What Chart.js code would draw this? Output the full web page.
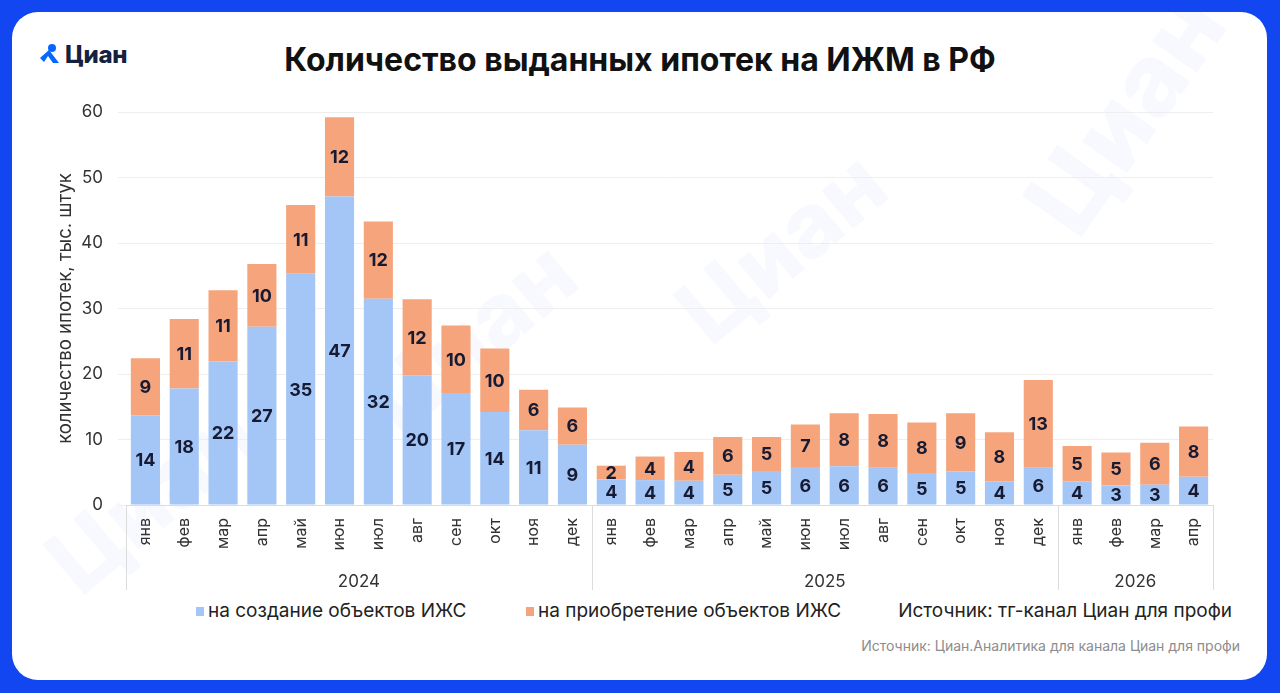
<!DOCTYPE html>
<html lang="ru">
<head>
<meta charset="utf-8">
<script src="https://cdn.jsdelivr.net/npm/chart.js@4.4.1/dist/chart.umd.min.js"></script>
<style>
  html, body { margin: 0; padding: 0; }
  body { width: 1280px; height: 693px; background: #1246f0; position: relative; overflow: hidden; font-family: Inter, "Noto Sans", sans-serif; }
  .card { position: absolute; left: 12px; top: 12px; width: 1255px; height: 668px; background: #fff; border-radius: 26px; overflow: hidden; }
  .wm { position: absolute; font-weight: 800; color: #f7f9fe; white-space: nowrap; transform-origin: center; }
  .logo { position: absolute; left: 38px; top: 40px; display: flex; align-items: center; }
  .logo span { font-weight: 800; font-size: 24px; color: #15213f; margin-left: 3px; letter-spacing: -0.3px; }
  .title { position: absolute; left: 0; width: 1280px; top: 40px; text-align: center; font-weight: 700; font-size: 32px; color: #111; }
  .legend { position: absolute; top: 599px; left: 0; width: 1280px; height: 24px; font-size: 19px; color: #222; }
  .legend .item { position: absolute; top: 0; line-height: 24px; white-space: nowrap; }
  .legend .box { display: inline-block; width: 8px; height: 9px; margin-right: 4px; vertical-align: 1px; }
  .footer { position: absolute; right: 40px; top: 637px; font-size: 14px; color: #8c8c8c; }
  .wrap { position: absolute; left: 0; top: 0; width: 1280px; height: 693px; }
</style>
</head>
<body>
<div class="card">
  <div class="wm" style="left:980px; top:40px; font-size:100px; transform:rotate(-55deg);">Циан</div>
  <div class="wm" style="left:650px; top:180px; font-size:90px; transform:rotate(-40deg);">Циан</div>
  <div class="wm" style="left:340px; top:270px; font-size:90px; transform:rotate(-40deg);">Циан</div>
  <div class="wm" style="left:20px; top:430px; font-size:90px; transform:rotate(-40deg);">Циан</div>
</div>
<div class="logo">
  <svg width="24" height="24" viewBox="0 0 24 24">
    <circle cx="14" cy="5" r="4" fill="#0468ff"/>
    <path d="M2 15 L11 7 L21 20 L15 20 L10 13 L6 19 Z" fill="#0468ff"/>
  </svg>
  <span>Циан</span>
</div>
<div class="title">Количество выданных ипотек на ИЖМ в РФ</div>
<div class="legend" id="legend"></div>
<div class="footer">Источник: Циан.Аналитика для канала Циан для профи</div>
<div class="wrap"><canvas id="chart"></canvas></div>

<script>
// Данные
const months = [
  'янв', 'фев', 'мар', 'апр', 'май', 'июн', 'июл', 'авг', 'сен', 'окт', 'ноя', 'дек',
  'янв', 'фев', 'мар', 'апр', 'май', 'июн', 'июл', 'авг', 'сен', 'окт', 'ноя', 'дек',
  'янв', 'фев', 'мар', 'апр'
];
const years = ['2024', '2025', '2026'];
const monthsPerYear = [12, 12, 4];

// тыс. штук
const creation = [
  13.7, 17.8, 21.9, 27.2, 35.3, 47.1, 31.5, 19.8, 17.1, 14.2, 11.4, 9.2,
  3.9, 3.8, 3.7, 4.6, 5.2, 5.8, 5.9, 5.7, 4.9, 5.1, 3.6, 5.7,
  3.6, 3.0, 3.1, 4.3
];
const purchase = [
  8.7, 10.6, 10.9, 9.6, 10.5, 12.1, 11.8, 11.6, 10.3, 9.7, 6.2, 5.7,
  2.1, 3.6, 4.4, 5.8, 5.2, 6.5, 8.1, 8.2, 7.7, 8.9, 7.5, 13.4,
  5.4, 5.0, 6.4, 7.7
];
const yTicks = [0, 10, 20, 30, 40, 50, 60];

const seriesNames = ['на создание объектов ИЖС', 'на приобретение объектов ИЖС'];
const seriesColors = ['#a3c6f7', '#f5a47c'];
const sourceNote = 'Источник: тг-канал Циан для профи';

const FONT = 'Inter, "Noto Sans", sans-serif';

// подписи значений внутри сегментов
const valueLabels = {
  id: 'valueLabels',
  afterDatasetsDraw(chart) {
    const ctx = chart.ctx;
    ctx.save();
    ctx.font = 'bold 18px ' + FONT;
    ctx.fillStyle = '#161a33';
    ctx.textAlign = 'center';
    ctx.textBaseline = 'middle';
    chart.data.datasets.forEach((ds, di) => {
      chart.getDatasetMeta(di).data.forEach((bar, i) => {
        const y = (bar.y + bar.base) / 2;
        ctx.fillText(String(Math.round(ds.data[i])), bar.x, y + 1);
      });
    });
    ctx.restore();
  }
};

// группировка месяцев по годам
const yearGroups = {
  id: 'yearGroups',
  afterDraw(chart) {
    const x = chart.scales.x;
    const ctx = chart.ctx;
    const half = (x.getPixelForValue(1) - x.getPixelForValue(0)) / 2;
    const top = chart.chartArea.bottom;
    const bottom = x.bottom;
    ctx.save();
    ctx.strokeStyle = '#dcdcdc';
    ctx.lineWidth = 1;
    ctx.font = '17px ' + FONT;
    ctx.fillStyle = '#333';
    ctx.textAlign = 'center';
    ctx.textBaseline = 'middle';
    let start = 0;
    const edges = [x.getPixelForValue(0) - half];
    years.forEach((yr, k) => {
      const end = start + monthsPerYear[k] - 1;
      const l = x.getPixelForValue(start) - half;
      const r = x.getPixelForValue(end) + half;
      edges.push(r);
      ctx.fillText(yr, (l + r) / 2, bottom - 8);
      start = end + 1;
    });
    edges.forEach(px => {
      ctx.beginPath();
      ctx.moveTo(Math.round(px) + 0.5, top);
      ctx.lineTo(Math.round(px) + 0.5, bottom);
      ctx.stroke();
    });
    ctx.restore();
  }
};

// легенда
const legendEl = document.getElementById('legend');
const legendX = [196, 526];
seriesNames.forEach((name, i) => {
  const item = document.createElement('div');
  item.className = 'item';
  item.style.left = legendX[i] + 'px';
  item.innerHTML = '<span class="box" style="background:' + seriesColors[i] + '"></span>' + name;
  legendEl.appendChild(item);
});
const note = document.createElement('div');
note.className = 'item';
note.style.right = '48px';
note.textContent = sourceNote;
legendEl.appendChild(note);

new Chart(document.getElementById('chart'), {
  type: 'bar',
  data: {
    labels: months,
    datasets: seriesNames.map((name, i) => ({
      label: name,
      data: i === 0 ? creation : purchase,
      backgroundColor: seriesColors[i],
      categoryPercentage: 1,
      barPercentage: 0.75
    }))
  },
  options: {
    responsive: true,
    maintainAspectRatio: false,
    animation: false,
    layout: { padding: { top: 112, right: 67, bottom: 103, left: 54 } },
    scales: {
      x: {
        stacked: true,
        grid: { display: false },
        border: { display: true, color: '#dcdcdc' },
        ticks: {
          minRotation: 90, maxRotation: 90,
          padding: 5,
          color: '#333',
          font: { family: FONT, size: 16 }
        },
        afterFit(scale) { scale.height = 85; }
      },
      y: {
        stacked: true,
        min: 0, max: 60,
        grid: { color: '#eeeeee' },
        border: { display: false },
        afterBuildTicks(scale) { scale.ticks = yTicks.map(v => ({ value: v })); },
        ticks: { padding: 15, color: '#333', font: { family: FONT, size: 17 } },
        title: {
          display: true,
          text: 'количество ипотек, тыс. штук',
          color: '#333',
          padding: 0,
          font: { family: FONT, size: 18.5 }
        },
        afterFit(scale) { scale.width = 72; }
      }
    },
    plugins: {
      legend: { display: false },
      tooltip: { enabled: false }
    }
  },
  plugins: [valueLabels, yearGroups]
});
</script>
</body>
</html>
